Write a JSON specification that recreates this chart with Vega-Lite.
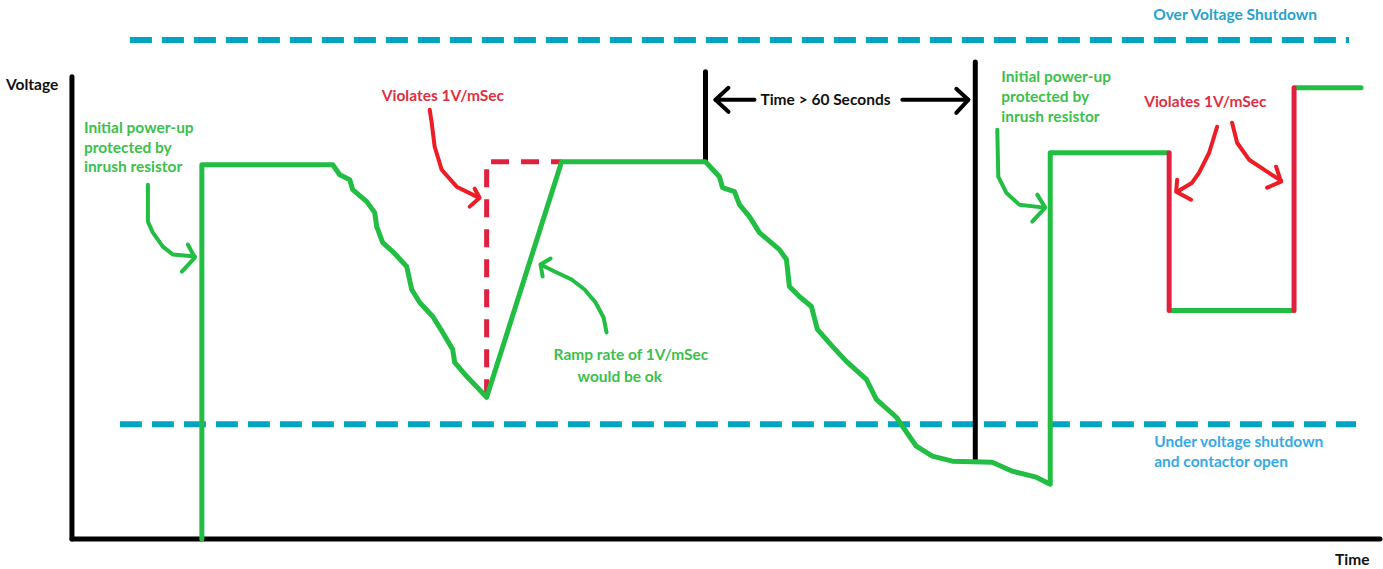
{
  "$schema": "https://vega.github.io/schema/vega-lite/v6.json",
  "width": 1383,
  "height": 569,
  "autosize": {"type": "fit", "contains": "padding"},
  "padding": 0,
  "background": "white",
  "config": {"view": {"stroke": null}},
  "datasets": {
    "lines": [
      {"g": "axis", "id": "yaxis", "o": 1, "t": 72, "v": 29},
      {"g": "axis", "id": "yaxis", "o": 2, "t": 72, "v": 492},
      {"g": "axis", "id": "xaxis", "o": 1, "t": 72, "v": 29},
      {"g": "axis", "id": "xaxis", "o": 2, "t": 1381, "v": 29},
      {"g": "axis", "id": "mark1", "o": 1, "t": 706, "v": 407},
      {"g": "axis", "id": "mark1", "o": 2, "t": 706, "v": 497},
      {"g": "axis", "id": "mark2", "o": 1, "t": 976, "v": 107},
      {"g": "axis", "id": "mark2", "o": 2, "t": 976, "v": 507},

      {"g": "blackArrow", "id": "ta1", "o": 1, "t": 716, "v": 469},
      {"g": "blackArrow", "id": "ta1", "o": 2, "t": 755, "v": 469},
      {"g": "blackArrow", "id": "ta1h", "o": 1, "t": 729, "v": 481},
      {"g": "blackArrow", "id": "ta1h", "o": 2, "t": 716, "v": 469},
      {"g": "blackArrow", "id": "ta1h", "o": 3, "t": 729, "v": 457},
      {"g": "blackArrow", "id": "ta2", "o": 1, "t": 903, "v": 469},
      {"g": "blackArrow", "id": "ta2", "o": 2, "t": 969, "v": 469},
      {"g": "blackArrow", "id": "ta2h", "o": 1, "t": 957, "v": 480},
      {"g": "blackArrow", "id": "ta2h", "o": 2, "t": 969, "v": 469},
      {"g": "blackArrow", "id": "ta2h", "o": 3, "t": 957, "v": 456},

      {"g": "blueDash", "id": "over", "o": 1, "t": 130, "v": 529},
      {"g": "blueDash", "id": "over", "o": 2, "t": 1350, "v": 529},
      {"g": "blueDash", "id": "under", "o": 1, "t": 120, "v": 144},
      {"g": "blueDash", "id": "under", "o": 2, "t": 1357, "v": 144},

      {"g": "green", "id": "main", "o": 1, "t": 202, "v": 29},
      {"g": "green", "id": "main", "o": 2, "t": 202, "v": 404},
      {"g": "green", "id": "main", "o": 3, "t": 333, "v": 404},
      {"g": "green", "id": "main", "o": 4, "t": 340, "v": 394},
      {"g": "green", "id": "main", "o": 5, "t": 350, "v": 389},
      {"g": "green", "id": "main", "o": 6, "t": 353, "v": 379},
      {"g": "green", "id": "main", "o": 7, "t": 367, "v": 367},
      {"g": "green", "id": "main", "o": 8, "t": 375, "v": 356},
      {"g": "green", "id": "main", "o": 9, "t": 377, "v": 342},
      {"g": "green", "id": "main", "o": 10, "t": 383, "v": 326},
      {"g": "green", "id": "main", "o": 11, "t": 393, "v": 317},
      {"g": "green", "id": "main", "o": 12, "t": 407, "v": 302},
      {"g": "green", "id": "main", "o": 13, "t": 412, "v": 279},
      {"g": "green", "id": "main", "o": 14, "t": 420, "v": 266},
      {"g": "green", "id": "main", "o": 15, "t": 433, "v": 252},
      {"g": "green", "id": "main", "o": 16, "t": 443, "v": 236},
      {"g": "green", "id": "main", "o": 17, "t": 453, "v": 219},
      {"g": "green", "id": "main", "o": 18, "t": 455, "v": 206},
      {"g": "green", "id": "main", "o": 19, "t": 467, "v": 192},
      {"g": "green", "id": "main", "o": 20, "t": 487, "v": 171},
      {"g": "green", "id": "main", "o": 21, "t": 562, "v": 407},
      {"g": "green", "id": "main", "o": 22, "t": 706, "v": 407},
      {"g": "green", "id": "main", "o": 23, "t": 720, "v": 392},
      {"g": "green", "id": "main", "o": 24, "t": 723, "v": 381},
      {"g": "green", "id": "main", "o": 25, "t": 735, "v": 377},
      {"g": "green", "id": "main", "o": 26, "t": 740, "v": 364},
      {"g": "green", "id": "main", "o": 27, "t": 750, "v": 352},
      {"g": "green", "id": "main", "o": 28, "t": 760, "v": 336},
      {"g": "green", "id": "main", "o": 29, "t": 780, "v": 319},
      {"g": "green", "id": "main", "o": 30, "t": 787, "v": 309},
      {"g": "green", "id": "main", "o": 31, "t": 790, "v": 282},
      {"g": "green", "id": "main", "o": 32, "t": 800, "v": 272},
      {"g": "green", "id": "main", "o": 33, "t": 812, "v": 262},
      {"g": "green", "id": "main", "o": 34, "t": 818, "v": 239},
      {"g": "green", "id": "main", "o": 35, "t": 833, "v": 222},
      {"g": "green", "id": "main", "o": 36, "t": 847, "v": 207},
      {"g": "green", "id": "main", "o": 37, "t": 867, "v": 189},
      {"g": "green", "id": "main", "o": 38, "t": 877, "v": 169},
      {"g": "green", "id": "main", "o": 39, "t": 897, "v": 151},
      {"g": "green", "id": "main", "o": 40, "t": 910, "v": 132},
      {"g": "green", "id": "main", "o": 41, "t": 917, "v": 122},
      {"g": "green", "id": "main", "o": 42, "t": 933, "v": 112},
      {"g": "green", "id": "main", "o": 43, "t": 953, "v": 107},
      {"g": "green", "id": "main", "o": 44, "t": 993, "v": 106},
      {"g": "green", "id": "main", "o": 45, "t": 1013, "v": 97},
      {"g": "green", "id": "main", "o": 46, "t": 1037, "v": 91},
      {"g": "green", "id": "main", "o": 47, "t": 1051, "v": 84},
      {"g": "green", "id": "main", "o": 48, "t": 1051, "v": 416},
      {"g": "green", "id": "main", "o": 49, "t": 1168, "v": 416},
      {"g": "green", "id": "low", "o": 1, "t": 1172, "v": 258},
      {"g": "green", "id": "low", "o": 2, "t": 1293, "v": 258},
      {"g": "green", "id": "top", "o": 1, "t": 1297, "v": 481},
      {"g": "green", "id": "top", "o": 2, "t": 1362, "v": 481},

      {"g": "crimson", "id": "drop", "o": 1, "t": 1170, "v": 416},
      {"g": "crimson", "id": "drop", "o": 2, "t": 1170, "v": 258},
      {"g": "crimson", "id": "jump", "o": 1, "t": 1295, "v": 258},
      {"g": "crimson", "id": "jump", "o": 2, "t": 1295, "v": 481},

      {"g": "crimsonDash", "id": "fast", "o": 1, "t": 487, "v": 171},
      {"g": "crimsonDash", "id": "fast", "o": 2, "t": 487, "v": 407},
      {"g": "crimsonDash", "id": "fast", "o": 3, "t": 562, "v": 407},

      {"g": "greenArrow", "id": "ga1", "o": 1, "t": 148, "v": 384},
      {"g": "greenArrow", "id": "ga1", "o": 2, "t": 148, "v": 347},
      {"g": "greenArrow", "id": "ga1", "o": 3, "t": 153, "v": 336},
      {"g": "greenArrow", "id": "ga1", "o": 4, "t": 163, "v": 322},
      {"g": "greenArrow", "id": "ga1", "o": 5, "t": 173, "v": 314},
      {"g": "greenArrow", "id": "ga1", "o": 6, "t": 195, "v": 312},
      {"g": "greenArrow", "id": "ga1h", "o": 1, "t": 188, "v": 324},
      {"g": "greenArrow", "id": "ga1h", "o": 2, "t": 195, "v": 311},
      {"g": "greenArrow", "id": "ga1h", "o": 3, "t": 182, "v": 297},
      {"g": "greenArrow", "id": "ga2", "o": 1, "t": 607, "v": 236},
      {"g": "greenArrow", "id": "ga2", "o": 2, "t": 604, "v": 251},
      {"g": "greenArrow", "id": "ga2", "o": 3, "t": 596, "v": 266},
      {"g": "greenArrow", "id": "ga2", "o": 4, "t": 585, "v": 279},
      {"g": "greenArrow", "id": "ga2", "o": 5, "t": 572, "v": 289},
      {"g": "greenArrow", "id": "ga2", "o": 6, "t": 555, "v": 297},
      {"g": "greenArrow", "id": "ga2", "o": 7, "t": 541, "v": 304},
      {"g": "greenArrow", "id": "ga2h", "o": 1, "t": 551, "v": 310},
      {"g": "greenArrow", "id": "ga2h", "o": 2, "t": 541, "v": 304},
      {"g": "greenArrow", "id": "ga2h", "o": 3, "t": 543, "v": 292},
      {"g": "greenArrow", "id": "ga3", "o": 1, "t": 998, "v": 439},
      {"g": "greenArrow", "id": "ga3", "o": 2, "t": 999, "v": 392},
      {"g": "greenArrow", "id": "ga3", "o": 3, "t": 1007, "v": 376},
      {"g": "greenArrow", "id": "ga3", "o": 4, "t": 1020, "v": 364},
      {"g": "greenArrow", "id": "ga3", "o": 5, "t": 1045, "v": 361},
      {"g": "greenArrow", "id": "ga3h", "o": 1, "t": 1038, "v": 374},
      {"g": "greenArrow", "id": "ga3h", "o": 2, "t": 1046, "v": 361},
      {"g": "greenArrow", "id": "ga3h", "o": 3, "t": 1033, "v": 347},

      {"g": "redArrow", "id": "ra1", "o": 1, "t": 430, "v": 459},
      {"g": "redArrow", "id": "ra1", "o": 2, "t": 432, "v": 446},
      {"g": "redArrow", "id": "ra1", "o": 3, "t": 435, "v": 422},
      {"g": "redArrow", "id": "ra1", "o": 4, "t": 442, "v": 399},
      {"g": "redArrow", "id": "ra1", "o": 5, "t": 457, "v": 382},
      {"g": "redArrow", "id": "ra1", "o": 6, "t": 479, "v": 371},
      {"g": "redArrow", "id": "ra1h", "o": 1, "t": 475, "v": 380},
      {"g": "redArrow", "id": "ra1h", "o": 2, "t": 480, "v": 371},
      {"g": "redArrow", "id": "ra1h", "o": 3, "t": 470, "v": 362},
      {"g": "redArrow", "id": "ra2", "o": 1, "t": 1218, "v": 442},
      {"g": "redArrow", "id": "ra2", "o": 2, "t": 1210, "v": 416},
      {"g": "redArrow", "id": "ra2", "o": 3, "t": 1200, "v": 396},
      {"g": "redArrow", "id": "ra2", "o": 4, "t": 1193, "v": 386},
      {"g": "redArrow", "id": "ra2", "o": 5, "t": 1178, "v": 377},
      {"g": "redArrow", "id": "ra2h", "o": 1, "t": 1178, "v": 389},
      {"g": "redArrow", "id": "ra2h", "o": 2, "t": 1177, "v": 377},
      {"g": "redArrow", "id": "ra2h", "o": 3, "t": 1192, "v": 369},
      {"g": "redArrow", "id": "ra3", "o": 1, "t": 1233, "v": 446},
      {"g": "redArrow", "id": "ra3", "o": 2, "t": 1238, "v": 426},
      {"g": "redArrow", "id": "ra3", "o": 3, "t": 1250, "v": 409},
      {"g": "redArrow", "id": "ra3", "o": 4, "t": 1265, "v": 399},
      {"g": "redArrow", "id": "ra3", "o": 5, "t": 1282, "v": 388},
      {"g": "redArrow", "id": "ra3h", "o": 1, "t": 1277, "v": 402},
      {"g": "redArrow", "id": "ra3h", "o": 2, "t": 1282, "v": 387},
      {"g": "redArrow", "id": "ra3h", "o": 3, "t": 1268, "v": 381}
    ],
    "labels": [
      {"c": "black", "t": 6, "v": 484, "text": "Voltage"},
      {"c": "black", "t": 1336, "v": 8, "text": "Time"},
      {"c": "black", "t": 761, "v": 469, "text": "Time > 60 Seconds"},
      {"c": "blue1", "t": 1154, "v": 554, "text": "Over Voltage Shutdown"},
      {"c": "blue2", "t": 1155, "v": 126, "text": "Under voltage shutdown"},
      {"c": "blue2", "t": 1155, "v": 106, "text": "and contactor open"},
      {"c": "green", "t": 84, "v": 441, "text": "Initial power-up"},
      {"c": "green", "t": 84, "v": 421, "text": "protected by"},
      {"c": "green", "t": 84, "v": 402, "text": "inrush resistor"},
      {"c": "green", "t": 1002, "v": 492, "text": "Initial power-up"},
      {"c": "green", "t": 1002, "v": 472, "text": "protected by"},
      {"c": "green", "t": 1002, "v": 452, "text": "inrush resistor"},
      {"c": "green", "t": 554, "v": 213, "text": "Ramp rate of 1V/mSec"},
      {"c": "green", "t": 578, "v": 191, "text": "would be ok"},
      {"c": "red", "t": 382, "v": 473, "text": "Violates 1V/mSec"},
      {"c": "red", "t": 1145, "v": 467, "text": "Violates 1V/mSec"}
    ]
  },
  "encoding": {
    "x": {"field": "t", "type": "quantitative", "scale": {"domain": [0, 1383], "nice": false, "zero": false}, "axis": null},
    "y": {"field": "v", "type": "quantitative", "scale": {"domain": [0, 569], "nice": false, "zero": false}, "axis": null}
  },
  "layer": [
    {
      "data": {"name": "lines"},
      "transform": [{"filter": "datum.g === 'blueDash'"}],
      "mark": {"type": "line", "color": "#00A3C4", "strokeWidth": 6, "strokeDash": [22, 10], "strokeCap": "butt"},
      "encoding": {"detail": {"field": "id"}, "order": {"field": "o"}}
    },
    {
      "data": {"name": "lines"},
      "transform": [{"filter": "datum.g === 'axis'"}],
      "mark": {"type": "line", "color": "#000000", "strokeWidth": 5, "strokeCap": "round", "strokeJoin": "round"},
      "encoding": {"detail": {"field": "id"}, "order": {"field": "o"}}
    },
    {
      "data": {"name": "lines"},
      "transform": [{"filter": "datum.g === 'blackArrow'"}],
      "mark": {"type": "line", "color": "#000000", "strokeWidth": 4, "strokeCap": "round", "strokeJoin": "round"},
      "encoding": {"detail": {"field": "id"}, "order": {"field": "o"}}
    },
    {
      "data": {"name": "lines"},
      "transform": [{"filter": "datum.g === 'crimsonDash'"}],
      "mark": {"type": "line", "color": "#E0203F", "strokeWidth": 5, "strokeDash": [18, 12], "strokeCap": "butt", "strokeJoin": "miter"},
      "encoding": {"detail": {"field": "id"}, "order": {"field": "o"}}
    },
    {
      "data": {"name": "lines"},
      "transform": [{"filter": "datum.g === 'green'"}],
      "mark": {"type": "line", "color": "#22BE44", "strokeWidth": 5, "strokeCap": "round", "strokeJoin": "round"},
      "encoding": {"detail": {"field": "id"}, "order": {"field": "o"}}
    },
    {
      "data": {"name": "lines"},
      "transform": [{"filter": "datum.g === 'crimson'"}],
      "mark": {"type": "line", "color": "#E0203F", "strokeWidth": 5, "strokeCap": "round", "strokeJoin": "round"},
      "encoding": {"detail": {"field": "id"}, "order": {"field": "o"}}
    },
    {
      "data": {"name": "lines"},
      "transform": [{"filter": "datum.g === 'greenArrow'"}],
      "mark": {"type": "line", "color": "#22BE44", "strokeWidth": 4, "strokeCap": "round", "strokeJoin": "round"},
      "encoding": {"detail": {"field": "id"}, "order": {"field": "o"}}
    },
    {
      "data": {"name": "lines"},
      "transform": [{"filter": "datum.g === 'redArrow'"}],
      "mark": {"type": "line", "color": "#EE1C24", "strokeWidth": 4, "strokeCap": "round", "strokeJoin": "round"},
      "encoding": {"detail": {"field": "id"}, "order": {"field": "o"}}
    },
    {
      "data": {"name": "labels"},
      "mark": {"type": "text", "align": "left", "baseline": "middle", "font": "Lato", "fontWeight": "bold", "fontSize": 15.5},
      "encoding": {
        "text": {"field": "text"},
        "color": {"field": "c", "type": "nominal", "legend": null,
          "scale": {"domain": ["black", "blue1", "blue2", "green", "red"], "range": ["#111111", "#25A3CE", "#35A9E6", "#3CBF4C", "#E0303F"]}}
      }
    }
  ]
}
